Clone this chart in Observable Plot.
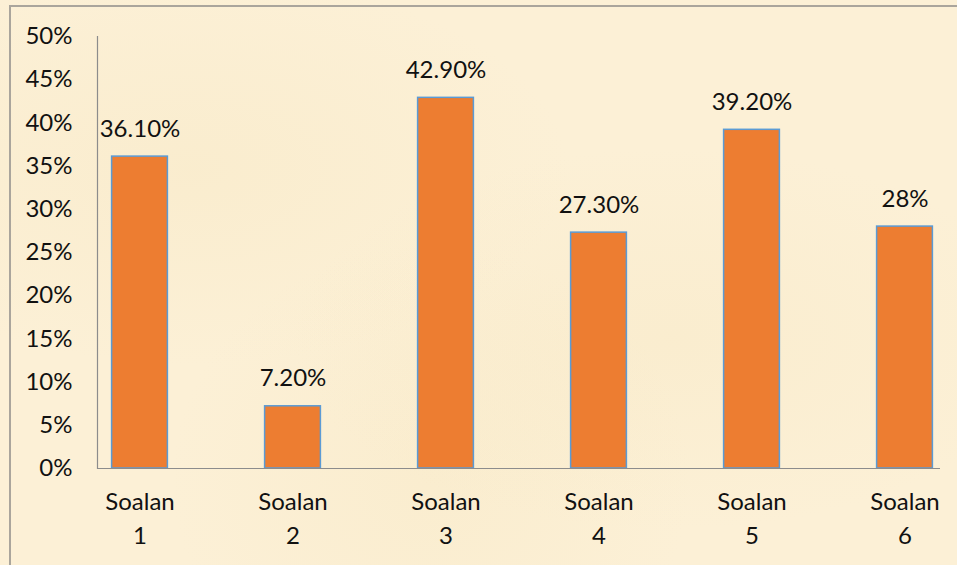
<!DOCTYPE html>
<html>
<head>
<meta charset="utf-8">
<script src="https://cdn.jsdelivr.net/npm/d3@7"></script>
<script src="https://cdn.jsdelivr.net/npm/@observablehq/plot@0.6"></script>
<style>
  html, body { margin: 0; padding: 0; }
  body { width: 957px; height: 565px; overflow: hidden; background: #fcf0d6; position: relative; }
  #bg { position: absolute; left: 0; top: 0; width: 957px; height: 565px;
        background:
          radial-gradient(ellipse at 20% 30%, rgba(242,224,178,0.22), rgba(0,0,0,0) 35%),
          radial-gradient(ellipse at 70% 60%, rgba(242,224,178,0.20), rgba(0,0,0,0) 40%),
          radial-gradient(ellipse at 45% 85%, rgba(242,224,178,0.20), rgba(0,0,0,0) 35%),
          #fcf0d6; }
  #border { position: absolute; left: 9px; top: 5px; width: 960px; height: 570px;
            border-left: 2px solid #aaa59c; border-top: 2px solid #aaa59c; box-sizing: border-box; }
  #chart { position: absolute; left: 0; top: 0; }
  #chart svg { background: transparent; }
</style>
</head>
<body>
<div id="bg"></div>
<div id="border"></div>
<div id="chart"></div>
<script>
const categories = ["Soalan 1", "Soalan 2", "Soalan 3", "Soalan 4", "Soalan 5", "Soalan 6"];
const values = [36.1, 7.2, 42.9, 27.3, 39.2, 28];
const valueLabels = ["36.10%", "7.20%", "42.90%", "27.30%", "39.20%", "28%"];
const yTicks = [0, 5, 10, 15, 20, 25, 30, 35, 40, 45, 50];

const data = categories.map((c, i) => ({cat: c, value: values[i], label: valueLabels[i]}));
const font = "Lato, 'Open Sans', sans-serif";
const fs = 24;

const chart = Plot.plot({
  width: 957,
  height: 565,
  marginTop: 36,
  marginBottom: 97,
  marginLeft: 97,
  marginRight: 17,
  style: {fontFamily: font, fontSize: fs + "px", color: "#111", background: "transparent"},
  x: {domain: categories, range: [62.4, 981.6], padding: 0, label: null},
  y: {domain: [0, 50], label: null},
  marks: [
    Plot.axisY({ticks: yTicks, tickSize: 0, tickPadding: 25, tickFormat: d => d + "%", fontSize: fs}),
    Plot.frame({anchor: "left", stroke: "#8c8c8c", strokeWidth: 1.2}),
    Plot.axisX({tickSize: 0, tickPadding: 18, tickFormat: d => d.replace(" ", "\n"), lineHeight: 1.4, fontSize: fs}),
    Plot.barY(data, {x: "cat", y: "value", fill: "#ed7d31", stroke: "#5b9bd5", strokeWidth: 1.5, insetLeft: 48.6, insetRight: 48.6}),
    Plot.ruleY([0], {stroke: "#8c8c8c", strokeWidth: 1.2}),
    Plot.text(data, {x: "cat", y: "value", text: "label", lineAnchor: "bottom", dy: -20, fontSize: fs, fill: "#111"})
  ]
});
document.getElementById("chart").appendChild(chart);
</script>
</body>
</html>
